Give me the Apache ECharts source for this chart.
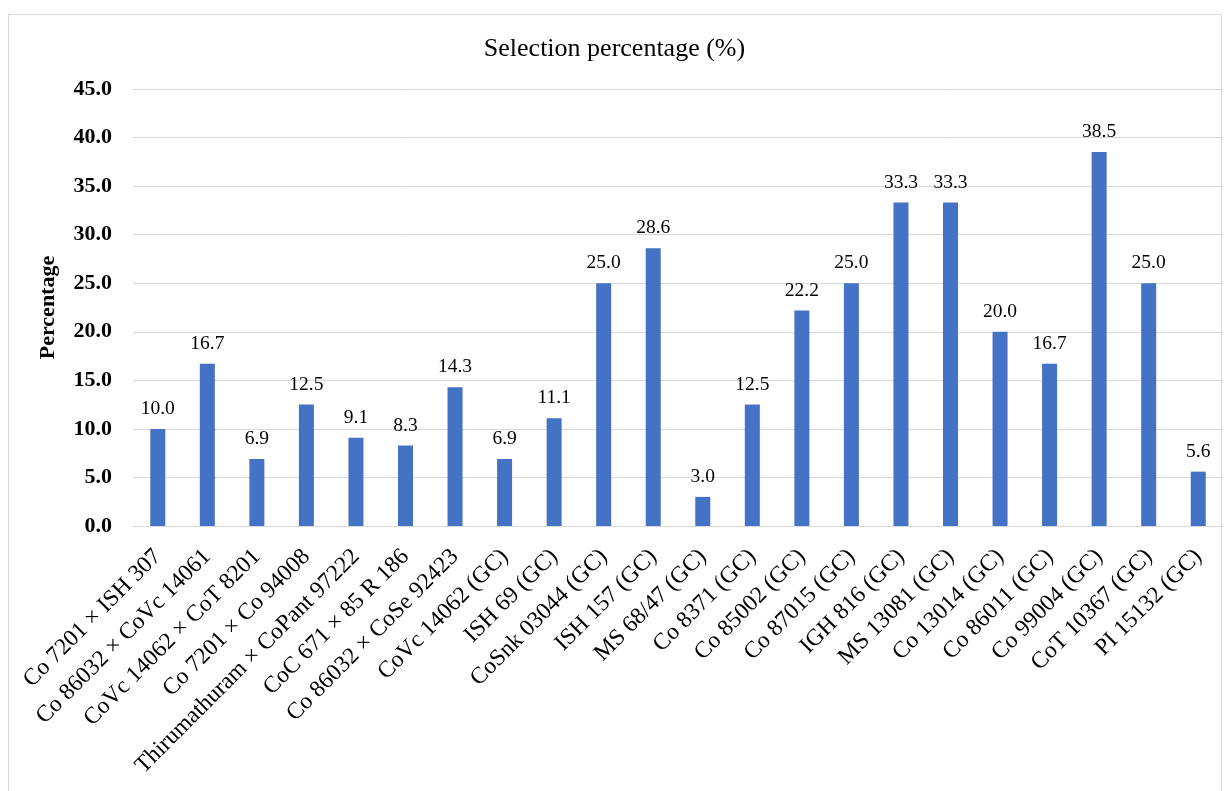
<!DOCTYPE html>
<html>
<head>
<meta charset="utf-8">
<script src="https://cdn.jsdelivr.net/npm/echarts@6/dist/echarts.min.js"></script>
<style>
html, body { margin: 0; padding: 0; background: #fff; }
#chart { width: 1229px; height: 791px; }
</style>
</head>
<body>
<div id="chart"></div>
<script>
var categories = [
    'Co 7201 × ISH 307', 'Co 86032 × CoVc 14061', 'CoVc 14062 × CoT 8201',
    'Co 7201 × Co 94008', 'Thirumathuram × CoPant 97222', 'CoC 671 × 85 R 186',
    'Co 86032 × CoSe 92423', 'CoVc 14062 (GC)', 'ISH 69 (GC)', 'CoSnk 03044 (GC)',
    'ISH 157 (GC)', 'MS 68/47 (GC)', 'Co 8371 (GC)', 'Co 85002 (GC)',
    'Co 87015 (GC)', 'IGH 816 (GC)', 'MS 13081 (GC)', 'Co 13014 (GC)',
    'Co 86011 (GC)', 'Co 99004 (GC)', 'CoT 10367 (GC)', 'PI 15132 (GC)'
];
var selection = [10.0, 16.7, 6.9, 12.5, 9.1, 8.3, 14.3, 6.9, 11.1, 25.0,
    28.6, 3.0, 12.5, 22.2, 25.0, 33.3, 33.3, 20.0, 16.7, 38.5, 25.0, 5.6];

var font = '"Liberation Serif", "Times New Roman", serif';

var myChart = echarts.init(document.getElementById('chart'));
var option = {
    animation: false,
    textStyle: { fontFamily: font },
    graphic: [{
        type: 'rect',
        shape: { x: 8.5, y: 14.5, width: 1213, height: 800 },
        style: { fill: 'none', stroke: '#d9d9d9', lineWidth: 1 },
        silent: true
    }],
    title: {
        text: 'Selection percentage (%)',
        left: 'center',
        top: 31,
        textStyle: { fontFamily: font, fontSize: 26, fontWeight: 'normal', color: '#000' }
    },
    grid: { left: 133, right: 6, top: 89, bottom: 265 },
    xAxis: {
        type: 'category',
        data: categories,
        axisTick: { show: false },
        axisLine: { lineStyle: { color: '#d9d9d9', width: 1 } },
        axisLabel: {
            interval: 0,
            rotate: 45,
            fontFamily: font,
            fontSize: 23.5,
            color: '#000',
            margin: 27
        }
    },
    yAxis: {
        type: 'value',
        min: 0,
        max: 45,
        interval: 5,
        name: 'Percentage',
        nameLocation: 'middle',
        nameGap: 74,
        nameRotate: 90,
        nameTextStyle: { fontFamily: font, fontSize: 22, fontWeight: 'bold', color: '#000' },
        axisLine: { show: false },
        axisTick: { show: false },
        splitLine: { lineStyle: { color: '#d9d9d9', width: 1 } },
        axisLabel: {
            fontFamily: font,
            fontSize: 22,
            fontWeight: 'bold',
            color: '#000',
            margin: 21,
            formatter: function (v) { return v.toFixed(1); }
        }
    },
    series: [{
        type: 'bar',
        data: selection,
        barWidth: 15,
        itemStyle: { color: '#4472C4' },
        label: {
            show: true,
            position: 'top',
            distance: 10,
            fontFamily: font,
            fontSize: 19.5,
            color: '#000',
            formatter: function (p) { return p.value.toFixed(1); }
        }
    }]
};
myChart.setOption(option);
</script>
</body>
</html>
